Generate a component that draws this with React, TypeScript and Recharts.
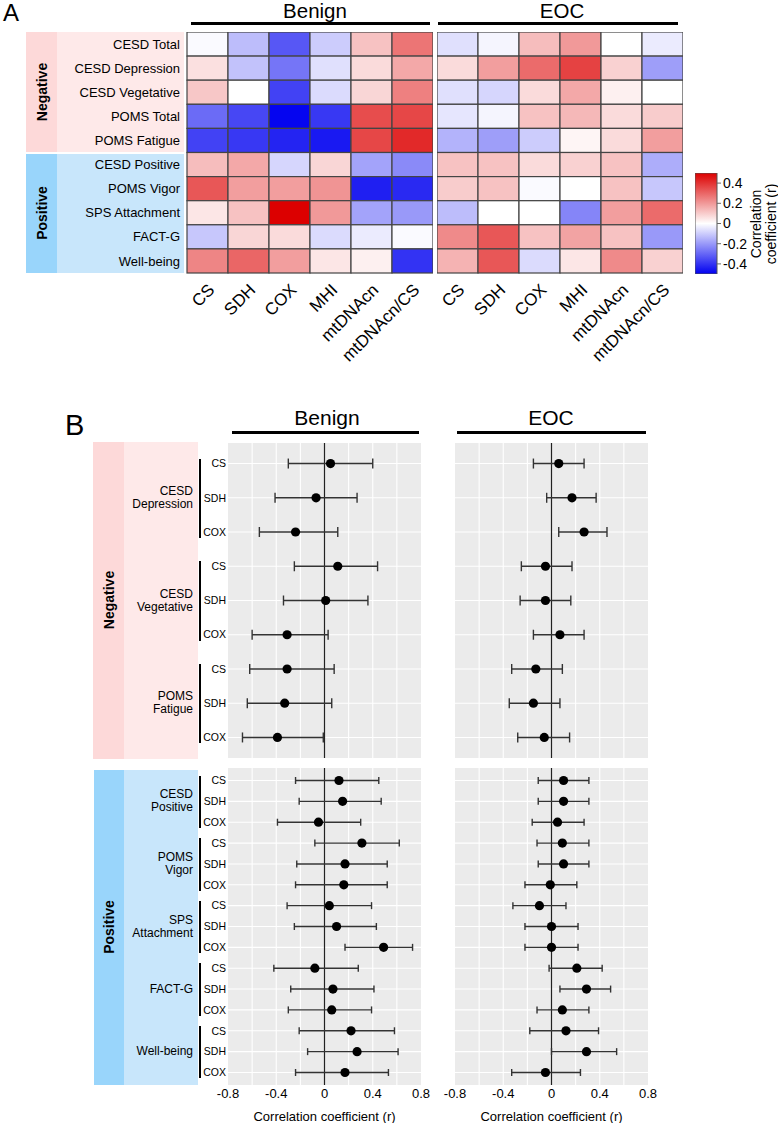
import React from "react";
import { ScatterChart, Scatter, XAxis, YAxis, ErrorBar, ReferenceLine, CartesianGrid, BarChart, Bar } from "recharts";

const FONT = '"Liberation Sans", Arial, Helvetica, sans-serif';

// ---- panel A: heatmap ----
const HM_ROWS = ["CESD Total", "CESD Depression", "CESD Vegetative", "POMS Total", "POMS Fatigue",
  "CESD Positive", "POMS Vigor", "SPS Attachment", "FACT-G", "Well-being"];
const HM_COLS = ["CS", "SDH", "COX", "MHI", "mtDNAcn", "mtDNAcn/CS"];

const HM_BENIGN = [
  [-0.01, -0.13, -0.33, -0.10, 0.12, 0.27],
  [0.06, -0.12, -0.27, -0.06, 0.07, 0.17],
  [0.11, 0.0, -0.37, -0.07, 0.08, 0.25],
  [-0.29, -0.36, -0.49, -0.39, 0.35, 0.36],
  [-0.37, -0.39, -0.43, -0.45, 0.36, 0.42],
  [0.13, 0.17, -0.08, 0.08, -0.18, -0.23],
  [0.33, 0.19, 0.19, 0.21, -0.44, -0.42],
  [0.05, 0.12, 0.5, 0.2, -0.18, -0.2],
  [-0.11, 0.08, 0.07, -0.07, -0.04, -0.01],
  [0.24, 0.3, 0.19, 0.05, 0.03, -0.4],
];
const HM_EOC = [
  [-0.06, -0.02, 0.13, 0.2, 0.0, -0.04],
  [0.07, 0.19, 0.29, 0.37, 0.09, -0.19],
  [-0.06, -0.08, 0.07, 0.17, 0.03, 0.0],
  [-0.05, -0.02, 0.12, 0.14, 0.07, 0.1],
  [-0.15, -0.19, -0.1, 0.02, 0.07, 0.19],
  [0.12, 0.12, 0.07, 0.09, 0.12, -0.16],
  [0.1, 0.12, -0.01, 0.0, 0.12, -0.11],
  [-0.13, 0.0, 0.0, -0.24, 0.19, 0.29],
  [0.23, 0.33, 0.12, 0.18, 0.12, -0.2],
  [0.15, 0.33, -0.07, 0.05, 0.23, 0.09],
];
const CB_TICKS = [-0.4, -0.2, 0, 0.2, 0.4];

// ---- panel B: forest plots ----
const FP_METRICS = ["CS", "SDH", "COX"];
const NEG_GROUPS = [["CESD", "Depression"], ["CESD", "Vegetative"], ["POMS", "Fatigue"]];
const POS_GROUPS = [["CESD", "Positive"], ["POMS", "Vigor"], ["SPS", "Attachment"], ["FACT-G"], ["Well-being"]];
const X_TICKS = [-0.8, -0.4, 0, 0.4, 0.8];
const X_GRID = [-0.6, -0.4, -0.2, 0.2, 0.4, 0.6];

const BENIGN_NEG_R = [0.05, -0.07, -0.24, 0.11, 0.01, -0.31, -0.31, -0.33, -0.39];
const BENIGN_NEG_LO = [-0.3, -0.41, -0.54, -0.25, -0.34, -0.6, -0.62, -0.64, -0.68];
const BENIGN_NEG_HI = [0.4, 0.27, 0.11, 0.44, 0.36, 0.03, 0.08, 0.06, -0.01];
const EOC_NEG_R = [0.06, 0.17, 0.27, -0.05, -0.05, 0.07, -0.13, -0.15, -0.06];
const EOC_NEG_LO = [-0.15, -0.04, 0.06, -0.25, -0.26, -0.15, -0.33, -0.35, -0.28];
const EOC_NEG_HI = [0.27, 0.37, 0.46, 0.17, 0.16, 0.27, 0.09, 0.07, 0.15];

const BENIGN_POS_R = [0.12, 0.15, -0.05, 0.31, 0.17, 0.16, 0.04, 0.1, 0.49, -0.08, 0.07, 0.06, 0.22, 0.27, 0.17];
const BENIGN_POS_LO = [-0.24, -0.21, -0.39, -0.08, -0.23, -0.24, -0.31, -0.25, 0.17, -0.42, -0.28, -0.3, -0.21, -0.14, -0.24];
const BENIGN_POS_HI = [0.45, 0.47, 0.3, 0.62, 0.52, 0.52, 0.39, 0.43, 0.73, 0.28, 0.41, 0.39, 0.58, 0.61, 0.53];
const EOC_POS_R = [0.1, 0.1, 0.05, 0.09, 0.1, -0.01, -0.1, 0.0, 0.0, 0.21, 0.29, 0.09, 0.12, 0.29, -0.05];
const EOC_POS_LO = [-0.11, -0.11, -0.16, -0.12, -0.11, -0.22, -0.32, -0.22, -0.22, -0.02, 0.07, -0.12, -0.18, 0.0, -0.33];
const EOC_POS_HI = [0.31, 0.31, 0.27, 0.31, 0.31, 0.21, 0.12, 0.22, 0.22, 0.42, 0.49, 0.31, 0.39, 0.54, 0.24];

// layout
const HM_TOP = 32, HM_H = 241, HM_W = 246, HM_LEFT = 187;
const CW = HM_W / 6, CH = HM_H / 10;
const NEG_TOP = 443, NEG_H = 315, POS_TOP = 768, POS_H = 317;
const BEN_X = 228, EOC_X = 455, FP_W = 193, FP_PAD = 16;

function heatColor(v: number) {
  const t = Math.min(1, Math.abs(v) / 0.5);
  const w = Math.round(255 * (1 - t));
  if (v >= 0) return `rgb(${Math.round(255 - 35 * t)},${w},${w})`;
  return `rgb(${w},${w},${Math.round(255 - 15 * t)})`;
}

const Txt = ({ x, y, size, children, anchor = "left", bold = false }: any) => (
  <div style={{
    position: "absolute", left: x, top: y - 0.846 * size, fontSize: size, lineHeight: `${size}px`,
    whiteSpace: "nowrap", fontWeight: bold ? "bold" : "normal",
    transform: anchor === "center" ? "translateX(-50%)" : anchor === "right" ? "translateX(-100%)" : undefined,
  }}>{children}</div>
);

const RotTxt = ({ cx, cy, size, children, deg = -90, bold = true, lh = size + 2 }: any) => (
  <div style={{
    position: "absolute", left: cx, top: cy, fontSize: size, lineHeight: `${lh}px`, whiteSpace: "nowrap",
    fontWeight: bold ? "bold" : "normal", textAlign: "center",
    transform: `translate(-50%,-50%) rotate(${deg}deg)`,
  }}>{children}</div>
);

const Box = ({ x, y, w, h, c }: any) => (
  <div style={{ position: "absolute", left: x, top: y, width: w, height: h, background: c }} />
);

const ColTick = (p: any) => {
  const x = p.x + 8, y = p.y + 16;
  return (
    <text x={x} y={y} textAnchor="end" fontSize={17} fill="#000" fontFamily={FONT}
      transform={`rotate(-45 ${x} ${y})`}>{HM_COLS[p.payload.value]}</text>
  );
};

const cellShape = (p: any) => (
  <rect x={p.cx - CW / 2} y={p.cy - CH / 2} width={CW} height={CH}
    fill={heatColor(p.payload.v)} stroke="#444" strokeWidth={1.2} />
);

function Heat({ values, left, showY }: any) {
  const data = values.flatMap((row: number[], i: number) => row.map((v, j) => ({ x: j, y: i, v })));
  const w = showY ? HM_LEFT + HM_W : HM_W;
  return (
    <div style={{ position: "absolute", left, top: HM_TOP }}>
      <ScatterChart width={w} height={HM_H + 110} margin={{ top: 0, right: 0, bottom: 0, left: 0 }}>
        <XAxis type="number" dataKey="x" domain={[-0.5, 5.5]} ticks={[0, 1, 2, 3, 4, 5]} interval={0}
          axisLine={false} tickLine={false} tickSize={0} height={110} tick={ColTick} />
        <YAxis type="number" dataKey="y" domain={[-0.5, 9.5]} reversed ticks={HM_ROWS.map((_, i) => i)}
          interval={0} hide={!showY} width={HM_LEFT} axisLine={false} tickLine={false} tickSize={0}
          tickMargin={7} tickFormatter={(v: number) => HM_ROWS[v]} tick={{ fontSize: 13, fill: "#000" }} />
        <Scatter data={data} isAnimationActive={false} shape={cellShape} />
      </ScatterChart>
    </div>
  );
}

function ColorBar() {
  const stops = Array.from({ length: 11 }, (_, i) => i / 10);
  return (
    <div style={{ position: "absolute", left: 695, top: 173 }}>
      <BarChart width={70} height={101} data={[{ k: "r", range: [-0.5, 0.5] }]} barCategoryGap={0}
        margin={{ top: 0, right: 0, bottom: 0, left: 0 }}>
        <defs>
          <linearGradient id="cbar" x1="0" y1="0" x2="0" y2="1">
            {stops.map((o) => <stop key={o} offset={o} stopColor={heatColor(0.5 - o)} />)}
          </linearGradient>
        </defs>
        <XAxis dataKey="k" hide />
        <YAxis orientation="right" type="number" domain={[-0.5, 0.5]} ticks={CB_TICKS} interval={0} width={48}
          axisLine={false} tickSize={4} tickMargin={2} tickLine={{ stroke: "#666" }}
          tick={{ fontSize: 14, fill: "#000" }} tickFormatter={(v: number) => (v === 0 ? "0" : v.toFixed(1))} />
        <Bar dataKey="range" fill="url(#cbar)" stroke="#555" isAnimationActive={false} />
      </BarChart>
    </div>
  );
}

const dot = (p: any) => <circle cx={p.cx} cy={p.cy} r={4.6} fill="#000" />;

function Forest({ r, lo, hi, left, top, height, showY, showX, cap }: any) {
  const n = r.length;
  const data = r.map((v: number, i: number) => ({ y: i + 1, r: v, err: [v - lo[i], hi[i] - v] }));
  const rows = data.map((d: any) => d.y);
  const yw = showY ? 30 : 0;
  return (
    <div style={{ position: "absolute", left: left - yw - FP_PAD, top }}>
      <ScatterChart width={FP_W + yw + 2 * FP_PAD} height={height + (showX ? 38 : 0)}
        margin={{ top: 0, right: FP_PAD, bottom: 0, left: FP_PAD }}>
        <CartesianGrid fill="#ebebeb" horizontal={false} vertical={false} />
        <XAxis type="number" dataKey="r" domain={[-0.8, 0.8]} ticks={X_TICKS} interval={0} hide={!showX}
          height={38} axisLine={false} tickLine={false} tickSize={0} tickMargin={4}
          tick={{ fontSize: 13, fill: "#000" }} tickFormatter={(v: number) => (v === 0 ? "0" : v.toFixed(1))}
          label={{ value: "Correlation coefficient (r)", position: "insideBottom", offset: 2, fontSize: 13, fill: "#000" }} />
        <YAxis type="number" dataKey="y" domain={[0.4, n + 0.6]} reversed ticks={rows} interval={0}
          hide={!showY} width={30} axisLine={false} tickLine={false} tickSize={0} tickMargin={2}
          tickFormatter={(v: number) => FP_METRICS[(v - 1) % 3]} tick={{ fontSize: 10.5, fill: "#000" }} />
        {X_GRID.map((v) => <ReferenceLine key={"v" + v} x={v} stroke="#fff" strokeWidth={1.1} />)}
        {rows.map((v: number) => <ReferenceLine key={"h" + v} y={v} stroke="#fff" strokeWidth={1.1} />)}
        <ReferenceLine x={0} stroke="#222" strokeWidth={1.2} />
        <Scatter data={data} isAnimationActive={false} shape={dot}>
          <ErrorBar dataKey="err" direction="x" width={cap} stroke="#333" strokeWidth={1.4} />
        </Scatter>
      </ScatterChart>
    </div>
  );
}

const rowY = (top: number, h: number, n: number, idx: number) => top + ((idx - 0.4) / (n + 0.2)) * h;

function Groups({ groups, top, h }: any) {
  const n = groups.length * 3;
  return (
    <>
      {groups.map((g: string[], k: number) => {
        const y1 = rowY(top, h, n, 3 * k + 1), y2 = rowY(top, h, n, 3 * k + 2), y3 = rowY(top, h, n, 3 * k + 3);
        return (
          <React.Fragment key={k}>
            <div style={{ position: "absolute", left: 199, top: y1 - 5, width: 2, height: y3 - y1 + 11, background: "#000" }} />
            <div style={{
              position: "absolute", left: 93, width: 100, top: y2 - (g.length * 13) / 2, textAlign: "right",
              fontSize: 12, lineHeight: "13px",
            }}>{g.map((s, i) => <div key={i}>{s}</div>)}</div>
          </React.Fragment>
        );
      })}
    </>
  );
}

export default function App() {
  return (
    <div style={{ position: "absolute", left: 0, top: 0, width: 778, height: 1123, overflow: "hidden", fontFamily: FONT, color: "#000", background: "#fff" }}>
      {/* panel A */}
      <Txt x={3} y={21} size={24}>A</Txt>
      <Txt x={315} y={18} size={20.5} anchor="center">Benign</Txt>
      <Txt x={562} y={18} size={20.5} anchor="center">EOC</Txt>
      <Box x={191} y={22} w={239} h={3} c="#000" />
      <Box x={438} y={22} w={240} h={3} c="#000" />
      <Box x={26} y={32} w={31} h={120} c="#fdd9d9" />
      <Box x={57} y={32} w={127} h={120} c="#fee9e9" />
      <Box x={26} y={154} w={31} h={119} c="#99d5fb" />
      <Box x={57} y={154} w={127} h={119} c="#c8e6fb" />
      <RotTxt cx={41.5} cy={92} size={14}>Negative</RotTxt>
      <RotTxt cx={41.5} cy={213} size={14}>Positive</RotTxt>
      <Heat values={HM_BENIGN} left={0} showY />
      <Heat values={HM_EOC} left={437} showY={false} />
      <ColorBar />
      <RotTxt cx={764} cy={224} size={14} deg={-90} bold={false} lh={15}>Correlation<br />coefficient (r)</RotTxt>

      {/* panel B */}
      <Txt x={65} y={436} size={29}>B</Txt>
      <Txt x={327} y={425} size={21} anchor="center">Benign</Txt>
      <Txt x={551} y={425} size={21} anchor="center">EOC</Txt>
      <Box x={232} y={431} w={187} h={3} c="#000" />
      <Box x={457} y={431} w={189} h={3} c="#000" />
      <Box x={93} y={442} w={31} h={317} c="#fdd9d9" />
      <Box x={124} y={442} w={74} h={317} c="#fee9e9" />
      <Box x={94} y={770} w={30} h={315} c="#99d5fb" />
      <Box x={124} y={770} w={74} h={315} c="#c8e6fb" />
      <RotTxt cx={108.5} cy={600} size={14}>Negative</RotTxt>
      <RotTxt cx={108.5} cy={927} size={14}>Positive</RotTxt>
      <Groups groups={NEG_GROUPS} top={NEG_TOP} h={NEG_H} />
      <Groups groups={POS_GROUPS} top={POS_TOP} h={POS_H} />
      <Forest r={BENIGN_NEG_R} lo={BENIGN_NEG_LO} hi={BENIGN_NEG_HI} left={BEN_X} top={NEG_TOP} height={NEG_H} showY showX={false} cap={5} />
      <Forest r={EOC_NEG_R} lo={EOC_NEG_LO} hi={EOC_NEG_HI} left={EOC_X} top={NEG_TOP} height={NEG_H} showY={false} showX={false} cap={5} />
      <Forest r={BENIGN_POS_R} lo={BENIGN_POS_LO} hi={BENIGN_POS_HI} left={BEN_X} top={POS_TOP} height={POS_H} showY showX cap={3.5} />
      <Forest r={EOC_POS_R} lo={EOC_POS_LO} hi={EOC_POS_HI} left={EOC_X} top={POS_TOP} height={POS_H} showY={false} showX cap={3.5} />
    </div>
  );
}
